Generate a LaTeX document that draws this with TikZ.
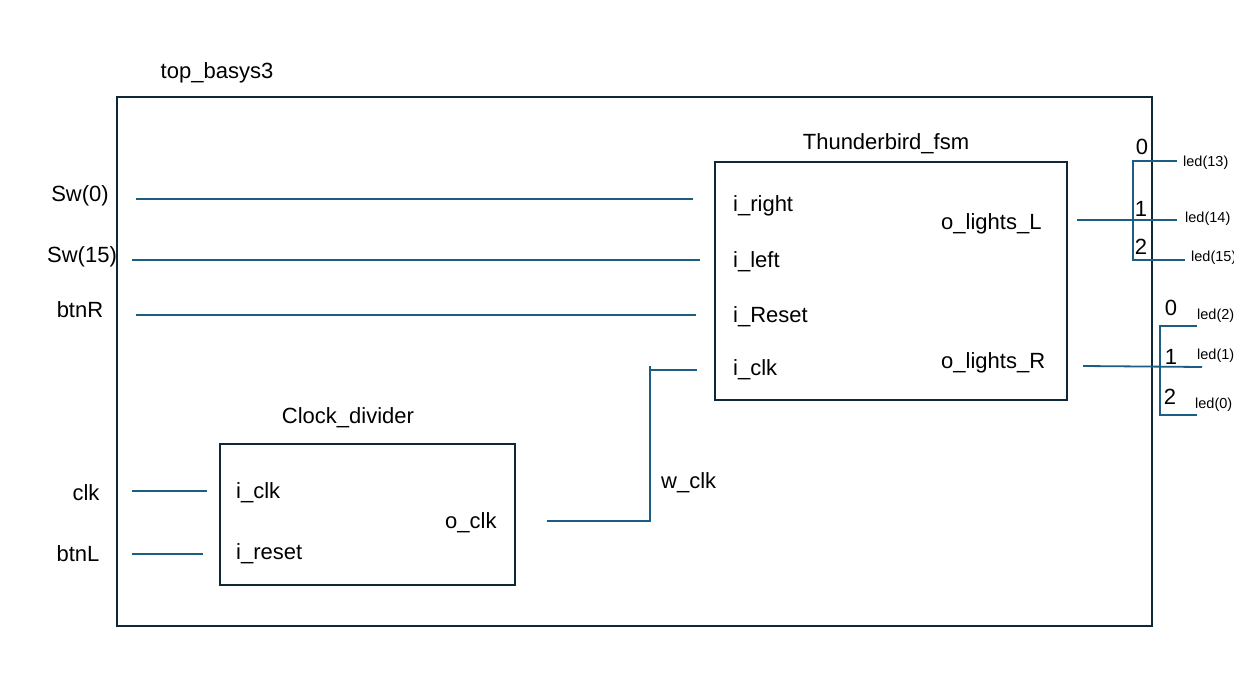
\documentclass[tikz,border=0pt]{standalone}
\usepackage{fontspec}
\setmainfont{Liberation Sans}
\usetikzlibrary{arrows}
\definecolor{wire}{HTML}{1B5E83}
\definecolor{frame}{HTML}{0E2838}
\newcommand{\Fs}[1]{\fontsize{#1}{#1}\selectfont}

\begin{document}
\begin{tikzpicture}[x=1pt,y=-1pt,
    every node/.style={inner sep=0pt, font=\Fs{22}},
    block/.style={draw=frame, line width=1.8pt},
    sig/.style={-, wire, line width=1.8pt},
    pin/.style={anchor=west},
    ledtxt/.style={anchor=west, font=\Fs{14.5}}]
                \useasboundingbox (0,0) rectangle (1234,677);
                % blocks
                \draw[block] (117,97) rectangle (1152,626);
                \node (top) at (217,73) {top\_basys3};
                \node[block, minimum width=352pt, minimum height=238pt] (fsm) at (891,281) {};
                \node (fsmname) at (886,144) {Thunderbird\_fsm};
                \node[block, minimum width=295pt, minimum height=141pt] (div) at (367.5,514.5) {};
                \node (divname) at (348,418) {Clock\_divider};
                % ports
                \node[pin] (iright) at (733,206) {i\_right};
                \node[pin] (ileft) at (733,262) {i\_left};
                \node[pin] (ireset) at (733,317) {i\_Reset};
                \node[pin] (iclk) at (733,370) {i\_clk};
                \node[pin] (olL) at (941,224) {o\_lights\_L};
                \node[pin] (olR) at (941,363) {o\_lights\_R};
                \node[pin] (dclk) at (236,493) {i\_clk};
                \node[pin] (dreset) at (236,554) {i\_reset};
                \node[pin] (oclk) at (445,523) {o\_clk};
                % inputs
                \node (sw0) at (80,196) {Sw(0)};
                \node (sw15) at (82,257) {Sw(15)};
                \node (btnR) at (80,310) {btnR};
                \node (clk) at (86,493) {clk};
                \node (btnL) at (78,554) {btnL};
                \node[pin] (wclk) at (661,483) {w\_clk};
                % wire ends
                \coordinate (a1) at (136,199); \coordinate (a2) at (693,199);
                \coordinate (b1) at (132,260); \coordinate (b2) at (700,260);
                \coordinate (c1) at (136,315); \coordinate (c2) at (696,315);
                \coordinate (d1) at (132,491); \coordinate (d2) at (207,491);
                \coordinate (e1) at (132,554); \coordinate (e2) at (203,554);
                \coordinate (w1) at (547,521); \coordinate (w2) at (650,521);
                \coordinate (w3) at (650,366); \coordinate (w4) at (697,370);
                \draw[sig] (a1)--(a2);
                \draw[sig] (b1)--(b2);
                \draw[sig] (c1)--(c2);
                \draw[sig] (d1)--(d2);
                \draw[sig] (e1)--(e2);
                \draw[sig] (w1)--(w2)--(w3);
                \draw[sig] (650,370)--(w4);
                % left lights bus
                \coordinate (L0) at (1133,161); \coordinate (L2) at (1133,260);
                \coordinate (Lout) at (1077,220);
                \draw[sig] (1177,161)--(L0)--(L2)--(1185,260);
                \draw[sig] (Lout)--(1177,220);
                \node (nL0) at (1142,147) {0};
                \node (nL1) at (1141,209) {1};
                \node (nL2) at (1141,247) {2};
                \node[ledtxt] (led13) at (1183,163) {led(13)};
                \node[ledtxt] (led14) at (1185,219) {led(14)};
                \node[ledtxt] (led15) at (1191,258) {led(15)};
                % right lights bus
                \coordinate (R0) at (1160,326); \coordinate (R2) at (1160,415);
                \coordinate (Rout) at (1083,366);
                \draw[sig] (1197,326)--(R0)--(R2)--(1197,415);
                \draw[sig] (Rout)--(1202,367);
                \node (nR0) at (1171,308) {0};
                \node (nR1) at (1171,357) {1};
                \node (nR2) at (1170,397) {2};
                \node[ledtxt] (led2) at (1197,316) {led(2)};
                \node[ledtxt] (led1) at (1197,356) {led(1)};
                \node[ledtxt] (led0) at (1195,405) {led(0)};
            \end{tikzpicture}
\end{document}
